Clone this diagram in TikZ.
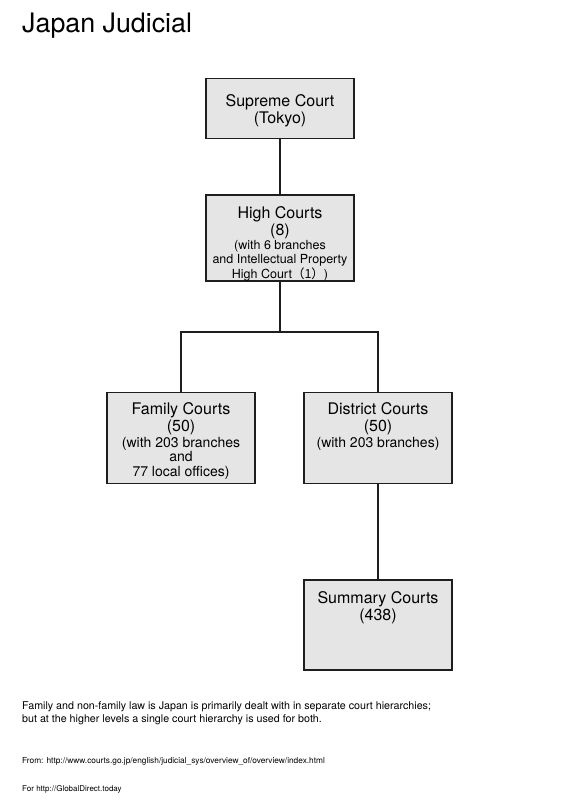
\documentclass[tikz,border=0pt]{standalone}
\usepackage{fontspec}
\setmainfont{TeX Gyre Heros}
\newfontfamily\cjk{Noto Sans CJK JP}
\usetikzlibrary{positioning}
\definecolor{boxgray}{HTML}{E5E5E5}
\definecolor{ink}{HTML}{1E1E1E}

\begin{document}
\begin{tikzpicture}[x=1pt,y=-1pt, every node/.style={inner sep=0pt}, court/.style={draw=ink,line width=1.4pt,fill=boxgray,minimum width=148pt,anchor=north}, ttl/.style={font=\fontsize{16}{17}\selectfont,align=center,anchor=north}, det/.style={font=\fontsize{14}{14.5}\selectfont,align=center}, ln/.style={draw=ink,line width=1.3pt}]
\useasboundingbox (0,0) rectangle (565,800);
\node[font=\fontsize{26.8}{30}\selectfont,anchor=base west] (title) at (22,33) {Japan Judicial};
% court boxes
\node[court,minimum height=60pt] (supreme) at (280,78) {};
\node[court,minimum height=86pt,below=55pt of supreme] (high) {};
\node[court,minimum height=91pt] (family) at (181,392) {};
\node[court,minimum height=91pt] (district) at (378,392) {};
\node[court,minimum height=90pt,below=95pt of district] (summary) {};
% box texts
\node[ttl] (supremeT) at ([yshift=-16pt]supreme.north) {Supreme Court\\(Tokyo)};
\node[ttl] (highT) at ([yshift=-11.5pt]high.north) {High Courts\\(8)};
\node[det,font=\fontsize{12.5}{14.5}\selectfont,below=1.5pt of highT] (highD) {(with 6 branches\\and Intellectual Property\\High Court{\cjk（1）})};
\node[ttl] (familyT) at ([yshift=-10.5pt]family.north) {Family Courts\\(50)};
\node[det,below=1.5pt of familyT] (familyD) {(with 203 branches\\and\\77 local offices)};
\node[ttl] (districtT) at ([yshift=-10.5pt]district.north) {District Courts\\(50)};
\node[det,below=1.5pt of districtT] (districtD) {(with 203 branches)};
\node[ttl] (summaryT) at ([yshift=-11.5pt]summary.north) {Summary Courts\\(438)};
% connectors
\coordinate (fork) at (280,332);
\draw[ln] (supreme) -- (high);
\draw[ln] (high) -- (fork);
\draw[ln] (family.north) |- (fork) -| (district.north);
\draw[ln] (district) -- (summary);
% notes
\node[font=\fontsize{10.7}{13.6}\selectfont,align=left,anchor=north west] (note) at (22,701) {Family and non-family law is Japan is primarily dealt with in separate court hierarchies;\\but at the higher levels a single court hierarchy is used for both.};
\node[font=\fontsize{8.3}{10}\selectfont,anchor=base west] (source) at (22,763) {From: http://www.courts.go.jp/english/judicial\_sys/overview\_of/overview/index.html};
\node[font=\fontsize{8}{10}\selectfont,anchor=base west] (credit) at (22,791) {For http://GlobalDirect.today};
\end{tikzpicture}
\end{document}
